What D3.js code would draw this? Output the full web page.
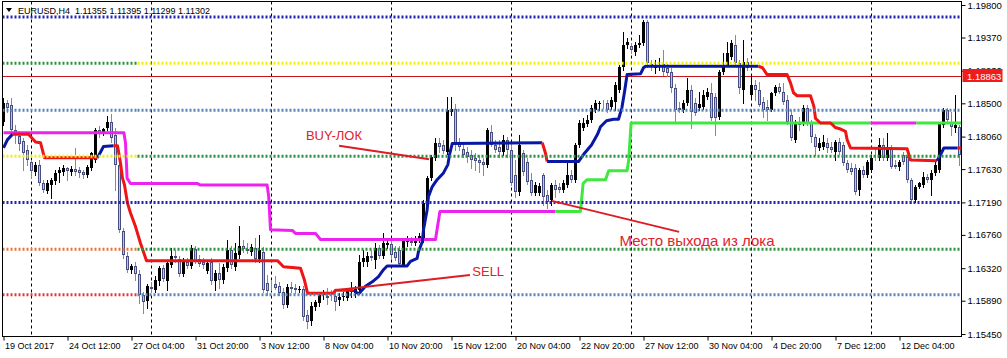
<!DOCTYPE html>
<html>
<head>
<meta charset="utf-8">
<script src="https://cdn.jsdelivr.net/npm/d3@7"></script>
<style>
  body { margin: 0; background: #fff; }
  svg text { font-family: "Liberation Sans", Arial, sans-serif; }
</style>
</head>
<body>
<div id="chart"></div>
<script>
// EURUSD H4, 240 bars
const opens = [1.1825,1.1850,1.1848,1.1815,1.1807,1.1800,1.1788,1.1773,1.1759,1.1769,1.1745,1.1734,1.1742,1.1747,1.1758,1.1759,1.1765,1.1759,1.1763,1.1762,
  1.1759,1.1755,1.1765,1.1775,1.1815,1.1811,1.1817,1.1825,1.1808,1.1769,1.1681,1.1648,1.1630,1.1635,1.1624,1.1597,1.1589,1.1607,1.1603,1.1615,
  1.1632,1.1615,1.1636,1.1648,1.1644,1.1624,1.1640,1.1635,1.1657,1.1644,1.1640,1.1628,1.1640,1.1615,1.1626,1.1616,1.1632,1.1656,1.1634,1.1650,
  1.1661,1.1657,1.1654,1.1659,1.1644,1.1654,1.1612,1.1608,1.1611,1.1608,1.1601,1.1583,1.1607,1.1606,1.1603,1.1604,1.1570,1.1562,1.1581,1.1586,
  1.1597,1.1595,1.1597,1.1595,1.1590,1.1594,1.1593,1.1601,1.1599,1.1603,1.1640,1.1640,1.1648,1.1643,1.1659,1.1648,1.1663,1.1664,1.1654,1.1656,
  1.1636,1.1667,1.1668,1.1665,1.1669,1.1669,1.1716,1.1751,1.1778,1.1798,1.1795,1.1786,1.1839,1.1843,1.1798,1.1790,1.1786,1.1782,1.1778,1.1775,
  1.1773,1.1769,1.1812,1.1795,1.1792,1.1786,1.1802,1.1788,1.1755,1.1733,1.1784,1.1773,1.1749,1.1731,1.1731,1.1755,1.1729,1.1722,1.1742,1.1739,
  1.1735,1.1742,1.1755,1.1749,1.1795,1.1817,1.1823,1.1828,1.1841,1.1849,1.1849,1.1850,1.1845,1.1852,1.1868,1.1898,1.1927,1.1926,1.1918,1.1927,
  1.1930,1.1958,1.1902,1.1897,1.1899,1.1902,1.1897,1.1892,1.1870,1.1844,1.1841,1.1850,1.1868,1.1850,1.1844,1.1845,1.1858,1.1864,1.1858,1.1832,
  1.1892,1.1901,1.1911,1.1927,1.1903,1.1868,1.1905,1.1861,1.1874,1.1868,1.1852,1.1845,1.1841,1.1864,1.1872,1.1865,1.1854,1.1835,1.1802,1.1825,
  1.1824,1.1844,1.1824,1.1805,1.1791,1.1792,1.1798,1.1792,1.1786,1.1799,1.1795,1.1771,1.1765,1.1765,1.1735,1.1762,1.1755,1.1762,1.1779,1.1778,
  1.1795,1.1778,1.1791,1.1769,1.1766,1.1782,1.1779,1.1749,1.1722,1.1739,1.1742,1.1753,1.1749,1.1758,1.1762,1.1821,1.1841,1.1825,1.1817,1.1819];
const highs = [1.1857,1.1854,1.1857,1.1821,1.1813,1.1804,1.1795,1.1775,1.1773,1.1775,1.1749,1.1749,1.1751,1.1762,1.1766,1.1769,1.1766,1.1767,1.1791,1.1766,
  1.1762,1.1769,1.1786,1.1817,1.1820,1.1817,1.1833,1.1836,1.1817,1.1775,1.1685,1.1654,1.1638,1.1640,1.1630,1.1601,1.1611,1.1614,1.1622,1.1635,
  1.1636,1.1642,1.1659,1.1656,1.1648,1.1646,1.1646,1.1663,1.1661,1.1650,1.1646,1.1640,1.1646,1.1630,1.1639,1.1638,1.1669,1.1661,1.1665,1.1688,
  1.1669,1.1665,1.1664,1.1672,1.1676,1.1660,1.1623,1.1616,1.1622,1.1614,1.1606,1.1611,1.1614,1.1611,1.1608,1.1608,1.1577,1.1587,1.1590,1.1601,
  1.1603,1.1606,1.1603,1.1603,1.1599,1.1601,1.1603,1.1614,1.1608,1.1650,1.1656,1.1654,1.1656,1.1665,1.1663,1.1679,1.1672,1.1669,1.1661,1.1661,
  1.1672,1.1675,1.1673,1.1675,1.1679,1.1722,1.1754,1.1782,1.1804,1.1804,1.1802,1.1858,1.1858,1.1849,1.1804,1.1798,1.1792,1.1788,1.1784,1.1782,
  1.1778,1.1817,1.1821,1.1802,1.1802,1.1808,1.1805,1.1798,1.1775,1.1808,1.1788,1.1778,1.1758,1.1746,1.1745,1.1758,1.1735,1.1745,1.1749,1.1745,
  1.1749,1.1771,1.1762,1.1798,1.1828,1.1831,1.1835,1.1848,1.1854,1.1853,1.1854,1.1854,1.1858,1.1878,1.1901,1.1944,1.1936,1.1930,1.1931,1.1940,
  1.1960,1.1960,1.1907,1.1907,1.1910,1.1921,1.1902,1.1897,1.1876,1.1852,1.1854,1.1884,1.1874,1.1857,1.1865,1.1868,1.1870,1.1877,1.1864,1.1894,
  1.1917,1.1931,1.1934,1.1940,1.1907,1.1934,1.1910,1.1888,1.1881,1.1878,1.1858,1.1854,1.1865,1.1874,1.1877,1.1877,1.1861,1.1841,1.1828,1.1832,
  1.1848,1.1848,1.1828,1.1809,1.1804,1.1808,1.1804,1.1799,1.1802,1.1804,1.1799,1.1775,1.1771,1.1770,1.1765,1.1767,1.1775,1.1782,1.1792,1.1804,
  1.1804,1.1811,1.1795,1.1775,1.1775,1.1786,1.1782,1.1751,1.1742,1.1746,1.1759,1.1757,1.1762,1.1773,1.1825,1.1844,1.1844,1.1839,1.1861,1.1821];
const lows = [1.1821,1.1839,1.1812,1.1798,1.1788,1.1762,1.1769,1.1753,1.1755,1.1742,1.1733,1.1731,1.1725,1.1743,1.1746,1.1755,1.1749,1.1755,1.1755,1.1753,
  1.1751,1.1753,1.1762,1.1773,1.1805,1.1808,1.1815,1.1799,1.1735,1.1680,1.1646,1.1627,1.1626,1.1616,1.1586,1.1573,1.1579,1.1601,1.1601,1.1610,
  1.1615,1.1603,1.1634,1.1640,1.1622,1.1622,1.1632,1.1632,1.1639,1.1635,1.1632,1.1626,1.1611,1.1603,1.1606,1.1612,1.1628,1.1632,1.1630,1.1646,
  1.1654,1.1652,1.1650,1.1640,1.1640,1.1601,1.1597,1.1603,1.1604,1.1597,1.1579,1.1581,1.1601,1.1599,1.1601,1.1564,1.1553,1.1557,1.1577,1.1582,
  1.1591,1.1585,1.1590,1.1577,1.1583,1.1590,1.1590,1.1594,1.1594,1.1599,1.1635,1.1635,1.1643,1.1632,1.1646,1.1646,1.1659,1.1646,1.1643,1.1635,
  1.1635,1.1661,1.1663,1.1663,1.1667,1.1667,1.1713,1.1749,1.1775,1.1786,1.1784,1.1783,1.1835,1.1788,1.1788,1.1779,1.1773,1.1765,1.1762,1.1759,
  1.1755,1.1766,1.1794,1.1786,1.1779,1.1782,1.1779,1.1742,1.1726,1.1729,1.1755,1.1743,1.1729,1.1729,1.1729,1.1716,1.1712,1.1716,1.1726,1.1733,
  1.1733,1.1739,1.1746,1.1746,1.1792,1.1815,1.1820,1.1825,1.1839,1.1841,1.1844,1.1839,1.1843,1.1841,1.1865,1.1894,1.1923,1.1917,1.1914,1.1924,
  1.1927,1.1898,1.1894,1.1890,1.1894,1.1888,1.1886,1.1865,1.1825,1.1839,1.1839,1.1848,1.1817,1.1835,1.1841,1.1843,1.1856,1.1828,1.1808,1.1829,
  1.1889,1.1899,1.1909,1.1901,1.1864,1.1850,1.1894,1.1858,1.1854,1.1847,1.1832,1.1828,1.1840,1.1861,1.1864,1.1849,1.1823,1.1802,1.1799,1.1815,
  1.1821,1.1821,1.1799,1.1782,1.1788,1.1790,1.1786,1.1786,1.1775,1.1783,1.1769,1.1759,1.1757,1.1730,1.1729,1.1753,1.1753,1.1759,1.1775,1.1775,
  1.1775,1.1775,1.1765,1.1765,1.1762,1.1770,1.1746,1.1718,1.1720,1.1738,1.1739,1.1746,1.1729,1.1755,1.1759,1.1819,1.1825,1.1808,1.1812,1.1769];
const closes = [1.1850,1.1844,1.1815,1.1809,1.1796,1.1784,1.1775,1.1761,1.1769,1.1745,1.1735,1.1745,1.1749,1.1758,1.1762,1.1765,1.1761,1.1763,1.1759,1.1758,
  1.1755,1.1766,1.1784,1.1815,1.1809,1.1816,1.1825,1.1804,1.1769,1.1683,1.1650,1.1630,1.1635,1.1624,1.1597,1.1587,1.1608,1.1604,1.1616,1.1632,
  1.1618,1.1639,1.1648,1.1646,1.1624,1.1640,1.1635,1.1659,1.1642,1.1638,1.1636,1.1639,1.1615,1.1626,1.1616,1.1634,1.1656,1.1636,1.1652,1.1661,
  1.1657,1.1655,1.1660,1.1644,1.1656,1.1603,1.1602,1.1607,1.1606,1.1599,1.1583,1.1607,1.1604,1.1603,1.1604,1.1567,1.1561,1.1582,1.1587,1.1597,
  1.1599,1.1593,1.1595,1.1587,1.1594,1.1595,1.1602,1.1603,1.1604,1.1640,1.1646,1.1648,1.1646,1.1659,1.1648,1.1665,1.1665,1.1650,1.1646,1.1638,
  1.1669,1.1668,1.1665,1.1672,1.1675,1.1718,1.1751,1.1779,1.1798,1.1792,1.1787,1.1841,1.1843,1.1796,1.1792,1.1782,1.1779,1.1775,1.1774,1.1771,
  1.1769,1.1815,1.1795,1.1788,1.1786,1.1802,1.1788,1.1745,1.1733,1.1795,1.1759,1.1746,1.1731,1.1742,1.1741,1.1726,1.1720,1.1742,1.1735,1.1735,
  1.1745,1.1755,1.1749,1.1795,1.1824,1.1824,1.1828,1.1844,1.1850,1.1850,1.1848,1.1841,1.1854,1.1874,1.1898,1.1927,1.1931,1.1921,1.1927,1.1930,
  1.1958,1.1903,1.1898,1.1901,1.1901,1.1892,1.1890,1.1870,1.1841,1.1841,1.1850,1.1868,1.1839,1.1837,1.1849,1.1861,1.1865,1.1831,1.1831,1.1892,
  1.1901,1.1917,1.1930,1.1903,1.1870,1.1905,1.1897,1.1874,1.1868,1.1848,1.1841,1.1841,1.1864,1.1872,1.1865,1.1852,1.1825,1.1804,1.1824,1.1821,
  1.1844,1.1824,1.1805,1.1792,1.1798,1.1799,1.1791,1.1788,1.1799,1.1786,1.1771,1.1762,1.1759,1.1733,1.1762,1.1755,1.1773,1.1778,1.1778,1.1795,
  1.1778,1.1791,1.1766,1.1766,1.1773,1.1773,1.1749,1.1722,1.1739,1.1745,1.1753,1.1749,1.1758,1.1769,1.1824,1.1841,1.1828,1.1819,1.1821,1.1782];

const priceTicks = [1.198, 1.1937, 1.1893, 1.185, 1.1806, 1.1763, 1.1719, 1.1676, 1.1632, 1.1589, 1.1545];
const timeTickBars = [0, 16, 32, 48, 64, 80, 96, 112, 128, 144, 160, 176, 192, 208, 224];
const timeLabels = ['19 Oct 2017', '24 Oct 12:00', '27 Oct 04:00', '31 Oct 20:00', '3 Nov 12:00', '8 Nov 04:00',
  '10 Nov 20:00', '15 Nov 12:00', '20 Nov 04:00', '22 Nov 20:00', '27 Nov 12:00', '30 Nov 04:00',
  '4 Dec 20:00', '7 Dec 12:00', '12 Dec 04:00'];
const gridBars = [7, 37, 67, 97, 127, 157, 187, 217];

const currentPrice = 1.18863;
const header = 'EURUSD,H4  1.11355 1.11395 1.11299 1.11302';

// horizontal levels, the left part changes colour at levelSplitBar
const levelPrices = [1.1964, 1.1903, 1.1841, 1.1780, 1.1719, 1.1657, 1.1597];
const levelSplitBar = 33.5;

// trend line: [bar, price] vertices per run
const trendRuns = [
  {dir: 'up', pts: [[0,1.1791],[1,1.1802],[2.25,1.1809]]},
  {dir: 'down', pts: [[2.25,1.1809],[6.25,1.1809],[8,1.1799],[9.25,1.1798],[10.25,1.1778],[23.5,1.1778]]},
  {dir: 'up', pts: [[23.5,1.1778],[25,1.1793],[27.5,1.1794]]},
  {dir: 'down', pts: [[27.5,1.1794],[28.5,1.1794],[29.25,1.1771],[29.75,1.1751],[30.25,1.1742],[31,1.1718],[31.75,1.1705],
    [33,1.1687],[34.25,1.1665],[35.75,1.1642],[68.5,1.1642],[70,1.1634],[74.25,1.1632],[75.25,1.1616],[76,1.1599],
    [82.5,1.1599],[83,1.1603],[87.5,1.1603]]},
  {dir: 'up', pts: [[87.5,1.1603],[88.75,1.1598],[90.5,1.1608],[92.2,1.1614],[93.75,1.1621],[95,1.1630],[95.9,1.1635],
    [100.9,1.1635],[101.75,1.1641],[103.4,1.1645],[103.75,1.1654],[104.7,1.1667],[105,1.1683],[105.9,1.1709],[106.25,1.1727],
    [107.2,1.1740],[108.4,1.1749],[110,1.1758],[111.1,1.1769],[111.5,1.1782],[112.2,1.1797],[134.7,1.1798]]},
  {dir: 'down', pts: [[134.7,1.1798],[135.5,1.1784],[135.9,1.1773]]},
  {dir: 'up', pts: [[135.9,1.1773],[143.75,1.1773],[145.25,1.1784],[147,1.1795],[148.5,1.1809],[149.25,1.1819],[150.75,1.1827],
    [152.5,1.1829],[153.75,1.1829],[154.6,1.1844],[155.25,1.1865],[155.9,1.1888],[159.25,1.1889],[160,1.1897],[160.5,1.1899],[188.75,1.1899]]},
  {dir: 'down', pts: [[188.75,1.1899],[189.75,1.1897],[190.9,1.1888],[195.9,1.1888],[196.75,1.1877],[197.5,1.1864],[198.4,1.1860],
    [201.75,1.1860],[202.6,1.1846],[203,1.1830],[204.25,1.1824],[206.75,1.1824],[208,1.1818],[209.25,1.1816],[210.5,1.1813],
    [210.9,1.1802],[211.75,1.1791],[225.9,1.1790],[226.75,1.1775],[233.4,1.1774]]},
  {dir: 'up', pts: [[233.4,1.1774],[234.25,1.1782],[235.1,1.1791],[238.4,1.1791]]},
  {dir: 'down', pts: [[238.4,1.1791],[239.75,1.1791]]}
];

// lock line
const lockRuns = [
  {side: 'short', pts: [[0,1.1811],[30.1,1.1811],[30.5,1.1798],[30.9,1.1751],[31.75,1.1744],[48.4,1.1744],[49.25,1.1742],
    [65.9,1.1742],[66.3,1.1727],[66.75,1.1683],[72.2,1.1682],[73,1.1678],[78,1.1678],[79.25,1.1670],[108,1.1670],
    [109.1,1.1707],[138,1.1707]]},
  {side: 'long', pts: [[138,1.1707],[144.25,1.1707],[144.9,1.1744],[145.9,1.1749],[150.5,1.1749],[151.3,1.1761],
    [155.9,1.1761],[156.3,1.1775],[156.9,1.1824],[158,1.1824],[216.75,1.1824]]},
  {side: 'short', pts: [[216.75,1.1824],[228.2,1.1824]]},
  {side: 'long', pts: [[228.2,1.1824],[239.75,1.1824]]}
];

// hand drawn notes
const noteTexts = ['BUY-ЛОК', 'SELL', 'Место выхода из лока'];
const noteAnchors = [[75.6, 1.1801], [117.2, 1.1622], [154.0, 1.1662]];
const noteLines = [
  [[83.9,1.1794],[106.4,1.1776]],
  [[82.9,1.1603],[116.6,1.1623]],
  [[137.1,1.1721],[168.9,1.1680]]
];

const W = 1007, H = 358;
const frame = {left: 2.5, top: 1.5, right: 961.5, bottom: 336.5};

const x = d3.scaleLinear().domain([0, 239]).range([3.5, 959.5]);
const y = d3.scaleLinear().domain([1.1545, 1.198]).range([334, 5]);

const trendColor = d3.scaleOrdinal().domain(['up', 'down']).range(['#0818a4', '#f01414']);
const lockColor = d3.scaleOrdinal().domain(['short', 'long']).range(['#ee22ee', '#3ee83e']);
const levelLeft = ['#2222b4', '#2f8f3f', '#5a86b6', '#eeee10', '#2222b4', '#e8743c', '#e23a3a'];
const levelRight = ['#2222b4', '#eeee10', '#5a86b6', '#2f8f3f', '#2222b4', '#2f8f3f', '#5a86b6'];
const noteSize = [13, 13, 15];

const svg = d3.select('#chart').append('svg')
    .attr('width', W)
    .attr('height', H);

svg.append('rect').attr('width', W).attr('height', H).attr('fill', '#ffffff');

svg.append('clipPath').attr('id', 'plot')
  .append('rect')
    .attr('x', frame.left).attr('y', frame.top)
    .attr('width', frame.right - frame.left).attr('height', frame.bottom - frame.top);

const chart = svg.append('g').attr('clip-path', 'url(#plot)');

// vertical grid
chart.selectAll('line.grid')
  .data(gridBars).join('line')
    .attr('class', 'grid')
    .attr('x1', d => x(d)).attr('x2', d => x(d))
    .attr('y1', frame.top).attr('y2', frame.bottom)
    .attr('stroke', '#000')
    .attr('stroke-dasharray', '3,3');

// current price line
chart.append('line')
    .attr('x1', frame.left).attr('x2', frame.right)
    .attr('y1', Math.round(y(currentPrice)) + 0.5).attr('y2', Math.round(y(currentPrice)) + 0.5)
    .attr('stroke', '#c8161e');

// candles
const bars = d3.range(opens.length).map(i => ({i, o: opens[i], h: highs[i], l: lows[i], c: closes[i]}));
const candle = chart.selectAll('g.candle')
  .data(bars).join('g')
    .attr('class', 'candle');

candle.append('line')
    .attr('x1', d => x(d.i)).attr('x2', d => x(d.i))
    .attr('y1', d => Math.round(y(d.h))).attr('y2', d => Math.round(y(d.l)) + 1)
    .attr('stroke', d => d.c >= d.o ? '#000' : '#808aa8');

candle.filter(d => d.c >= d.o).append('rect')
    .attr('x', d => x(d.i) - 1.5)
    .attr('width', 3)
    .attr('y', d => Math.round(y(d.c)))
    .attr('height', d => Math.max(1, Math.round(y(d.o)) - Math.round(y(d.c))))
    .attr('fill', '#000');

candle.filter(d => d.c < d.o).append('rect')
    .attr('x', d => x(d.i) - 1)
    .attr('width', 2)
    .attr('y', d => Math.round(y(d.o)) + 0.5)
    .attr('height', d => Math.max(0, Math.round(y(d.c)) - Math.round(y(d.o)) - 1))
    .attr('fill', '#c0c4dc')
    .attr('stroke', '#454d82');

const line = d3.line().x(d => x(d[0])).y(d => y(d[1]));

// indicator lines
chart.selectAll('path.lock')
  .data(lockRuns).join('path')
    .attr('class', 'lock')
    .attr('d', d => line(d.pts))
    .attr('fill', 'none')
    .attr('stroke', d => lockColor(d.side))
    .attr('stroke-width', 3)
    .attr('stroke-linejoin', 'round');

chart.selectAll('path.trend')
  .data(trendRuns).join('path')
    .attr('class', 'trend')
    .attr('d', d => line(d.pts))
    .attr('fill', 'none')
    .attr('stroke', d => trendColor(d.dir))
    .attr('stroke-width', 3)
    .attr('stroke-linejoin', 'round');

// levels
levelPrices.forEach((p, k) => {
  const yy = y(p);
  chart.append('line')
      .attr('x1', frame.left).attr('x2', x(levelSplitBar))
      .attr('y1', yy).attr('y2', yy)
      .attr('stroke', levelLeft[k]).attr('stroke-width', 3)
      .attr('stroke-dasharray', '2,2');
  chart.append('line')
      .attr('x1', x(levelSplitBar)).attr('x2', frame.right)
      .attr('y1', yy).attr('y2', yy)
      .attr('stroke', levelRight[k]).attr('stroke-width', 3)
      .attr('stroke-dasharray', '2,2');
});

// notes
chart.selectAll('path.note')
  .data(noteLines).join('path')
    .attr('class', 'note')
    .attr('d', d => line(d))
    .attr('fill', 'none')
    .attr('stroke', '#de1c24')
    .attr('stroke-width', 2);

chart.selectAll('text.note')
  .data(noteTexts).join('text')
    .attr('class', 'note')
    .attr('x', (d, k) => x(noteAnchors[k][0]))
    .attr('y', (d, k) => y(noteAnchors[k][1]))
    .attr('font-size', (d, k) => noteSize[k])
    .attr('fill', '#e0222a')
    .text(d => d);

// axes
const yAxis = svg.append('g')
    .attr('transform', `translate(${frame.right},0)`)
    .call(d3.axisRight(y).tickValues(priceTicks).tickFormat(d3.format('.5f')).tickSize(4).tickPadding(2));
yAxis.select('.domain').remove();
yAxis.selectAll('text').attr('font-size', 9.5).attr('fill', '#000').attr('font-family', '"Liberation Sans", Arial, sans-serif');

const xAxis = svg.append('g')
    .attr('transform', `translate(0,${frame.bottom})`)
    .call(d3.axisBottom(x).tickValues(timeTickBars).tickFormat((d, k) => timeLabels[k]).tickSize(4).tickPadding(2));
xAxis.select('.domain').remove();
xAxis.selectAll('text')
    .attr('text-anchor', 'start')
    .attr('dx', 1)
    .attr('font-size', 9)
    .attr('fill', '#000')
    .attr('font-family', '"Liberation Sans", Arial, sans-serif');

// frame
svg.append('rect')
    .attr('x', frame.left).attr('y', frame.top)
    .attr('width', frame.right - frame.left).attr('height', frame.bottom - frame.top)
    .attr('fill', 'none')
    .attr('stroke', '#000');

// current price label, drawn over the hidden 1.18930 tick as in the terminal
const cy = y(currentPrice);
svg.append('rect')
    .attr('x', frame.right + 1).attr('y', Math.round(cy) - 7)
    .attr('width', 40).attr('height', 13)
    .attr('fill', '#f01c1c');
svg.append('text')
    .attr('x', frame.right + 5.5).attr('y', Math.round(cy) + 3.5)
    .attr('font-size', 9.5)
    .attr('fill', '#fff')
    .text(d3.format('.5f')(currentPrice));

// header
svg.append('path')
    .attr('d', 'M6,8 L12,8 L9,12 Z')
    .attr('fill', '#000');
svg.append('text')
    .attr('x', 18).attr('y', 14)
    .attr('font-size', 9)
    .attr('fill', '#000')
    .style('white-space', 'pre')
    .text(header);
</script>
</body>
</html>
